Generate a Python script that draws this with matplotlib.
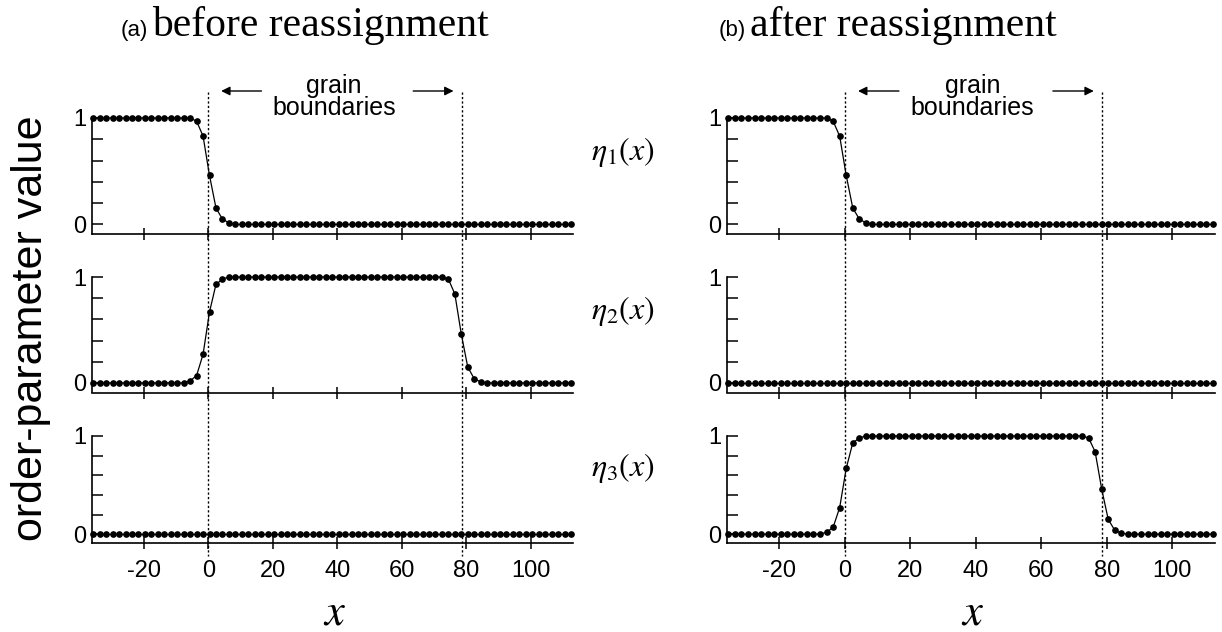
import matplotlib
matplotlib.use("Agg")
import matplotlib.pyplot as plt

plt.rcParams["mathtext.fontset"] = "stix"
SANS = "Liberation Sans"
SERIF = "Liberation Serif"

# sample positions along x (grid spacing 2)
x_grid = [-35.6, -33.6, -31.6, -29.6, -27.6, -25.6, -23.6, -21.6, -19.6, -17.6,
          -15.6, -13.6, -11.6, -9.6, -7.6, -5.6, -3.6, -1.6, 0.4, 2.4,
          4.4, 6.4, 8.4, 10.4, 12.4, 14.4, 16.4, 18.4, 20.4, 22.4,
          24.4, 26.4, 28.4, 30.4, 32.4, 34.4, 36.4, 38.4, 40.4, 42.4,
          44.4, 46.4, 48.4, 50.4, 52.4, 54.4, 56.4, 58.4, 60.4, 62.4,
          64.4, 66.4, 68.4, 70.4, 72.4, 74.4, 76.4, 78.4, 80.4, 82.4,
          84.4, 86.4, 88.4, 90.4, 92.4, 94.4, 96.4, 98.4, 100.4, 102.4,
          104.4, 106.4, 108.4, 110.4, 112.4]

# grain on the left of x=0
grain_left = [1, 1, 1, 1, 1, 1, 1, 1, 1, 1,
              1, 1, 1, 1, 1, 1, 0.97, 0.83, 0.46, 0.155,
              0.05, 0.015, 0, 0, 0, 0, 0, 0, 0, 0,
              0, 0, 0, 0, 0, 0, 0, 0, 0, 0,
              0, 0, 0, 0, 0, 0, 0, 0, 0, 0,
              0, 0, 0, 0, 0, 0, 0, 0, 0, 0,
              0, 0, 0, 0, 0, 0, 0, 0, 0, 0,
              0, 0, 0, 0, 0]

# grain between the two boundaries
grain_middle = [0, 0, 0, 0, 0, 0, 0, 0, 0, 0,
                0, 0, 0, 0, 0, 0.02, 0.07, 0.27, 0.67, 0.93,
                0.98, 1, 1, 1, 1, 1, 1, 1, 1, 1,
                1, 1, 1, 1, 1, 1, 1, 1, 1, 1,
                1, 1, 1, 1, 1, 1, 1, 1, 1, 1,
                1, 1, 1, 1, 1, 0.98, 0.84, 0.46, 0.15, 0.04,
                0.01, 0, 0, 0, 0, 0, 0, 0, 0, 0,
                0, 0, 0, 0, 0]

empty = [0, 0, 0, 0, 0, 0, 0, 0, 0, 0,
         0, 0, 0, 0, 0, 0, 0, 0, 0, 0,
         0, 0, 0, 0, 0, 0, 0, 0, 0, 0,
         0, 0, 0, 0, 0, 0, 0, 0, 0, 0,
         0, 0, 0, 0, 0, 0, 0, 0, 0, 0,
         0, 0, 0, 0, 0, 0, 0, 0, 0, 0,
         0, 0, 0, 0, 0, 0, 0, 0, 0, 0,
         0, 0, 0, 0, 0]

before = [grain_left, grain_middle, empty]
after = [grain_left, empty, grain_middle]

boundaries = [0, 78.5]
x_ticks = [-20, 0, 20, 40, 60, 80, 100]
x_ticklabels = ["-20", "0", "20", "40", "60", "80", "100"]
minor_y = [0.2, 0.4, 0.6, 0.8]
eta_labels = [r"$\eta_1(x)$", r"$\eta_2(x)$", r"$\eta_3(x)$"]
XLIM = (-36, 113)
YLIM = (-0.09, 1.0)

W, H = 1222, 632
fig = plt.figure(figsize=(W / 100, H / 100), dpi=100)


def box(l, t, r, b):
    # pixel box -> figure fraction
    return [l / W, 1 - b / H, (r - l) / W, (b - t) / H]


cols = [(92, 573), (727, 1215)]
rows = [(118, 234), (277, 392.5), (436, 543)]

for ci, profiles in enumerate([before, after]):
    l, r = cols[ci]
    for ri, y in enumerate(profiles):
        t, b = rows[ri]
        ax = fig.add_axes(box(l, t, r, b))
        ax.plot(x_grid, y, color="black", lw=0.9, marker="o", ms=3.8,
                clip_on=False, zorder=3)
        ax.set_xlim(*XLIM)
        ax.set_ylim(*YLIM)
        for s in ["top", "right"]:
            ax.spines[s].set_visible(False)
        for s in ["left", "bottom"]:
            ax.spines[s].set_linewidth(1.2)
        ax.set_yticks([0, 1])
        ax.set_yticklabels(["0", "1"], fontsize=17, family=SANS)
        ax.set_yticks(minor_y, minor=True)
        ax.tick_params(axis="y", which="both", direction="in", length=8,
                       width=1.1, pad=4)
        ax.set_xticks(x_ticks)
        ax.tick_params(axis="x", direction="inout", length=8, width=1.1, pad=8)
        if ri == 2:
            ax.set_xticklabels(x_ticklabels, fontsize=17, family=SANS)
        else:
            ax.set_xticklabels([])
        ax.patch.set_alpha(0)

    # overlay for boundary lines and annotation (y in pixels, top-down)
    ov = fig.add_axes([l / W, 0, (r - l) / W, 1], zorder=5)
    ov.set_xlim(*XLIM)
    ov.set_ylim(H, 0)
    ov.axis("off")
    ov.vlines(boundaries, 92, 556, colors="black", lw=1.0,
              linestyles=(0, (1.6, 1.6)))
    ov.text(39, 97, "grain\nboundaries", ha="center", va="center",
            fontsize=18, family=SANS, linespacing=0.92)
    ov.annotate("", xy=(4, 91), xytext=(16.5, 91),
                arrowprops=dict(arrowstyle="-|>", lw=1.0, color="black",
                                mutation_scale=13, shrinkA=0, shrinkB=0))
    ov.annotate("", xy=(76, 91), xytext=(63.5, 91),
                arrowprops=dict(arrowstyle="-|>", lw=1.0, color="black",
                                mutation_scale=13, shrinkA=0, shrinkB=0))
    ov.text(39, 612, r"$x$", ha="center", va="center", fontsize=32)

# panel titles
fig.text(148 / W, 1 - 36 / H, "(a)", ha="right", va="baseline", fontsize=16,
         family=SANS)
fig.text(152 / W, 1 - 36 / H, "before reassignment", ha="left",
         va="baseline", fontsize=30, family=SERIF)
fig.text(746 / W, 1 - 36 / H, "(b)", ha="right", va="baseline", fontsize=16,
         family=SANS)
fig.text(750 / W, 1 - 36 / H, "after reassignment", ha="left",
         va="baseline", fontsize=30, family=SERIF)

# y label and eta labels
fig.text(31 / W, 1 - 328 / H, "order-parameter value", rotation=90,
         ha="center", va="center", fontsize=31, family=SANS)
for ri, lab in enumerate(eta_labels):
    yc = [152, 311, 468][ri]
    fig.text(623 / W, 1 - yc / H, lab, ha="center", va="center", fontsize=23)

fig.savefig("out.png", dpi=100)
